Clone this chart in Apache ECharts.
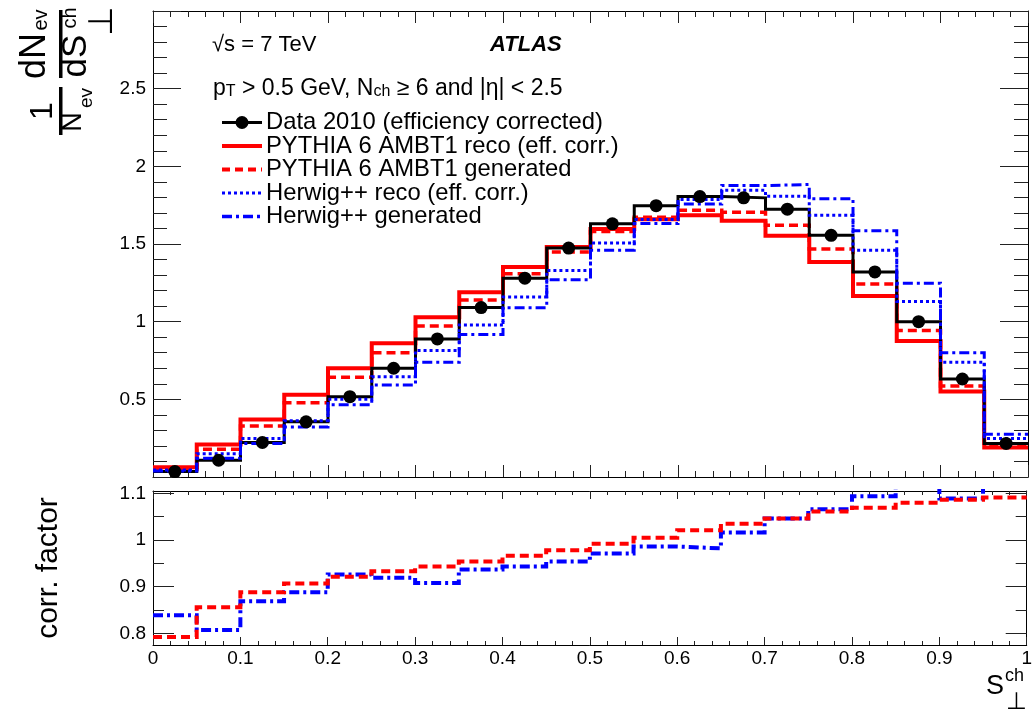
<!DOCTYPE html>
<html><head><meta charset="utf-8">
<script src="https://cdn.jsdelivr.net/npm/echarts@6/dist/echarts.min.js"></script>
<style>html,body{margin:0;padding:0;background:#fff}#c{width:1035px;height:709px}</style>
</head><body><div id="c"></div>
<script>
// ---------- data ----------
const binEdges   = [0,0.05,0.1,0.15,0.2,0.25,0.3,0.35,0.4,0.45,0.5,0.55,0.6,0.65,0.7,0.75,0.8,0.85,0.9,0.95,1.0];
const binCenters = [0.025,0.075,0.125,0.175,0.225,0.275,0.325,0.375,0.425,0.475,0.525,0.575,0.625,0.675,0.725,0.775,0.825,0.875,0.925,0.975];
const dataVals   = [0.035,0.108,0.222,0.355,0.517,0.700,0.889,1.091,1.280,1.474,1.630,1.747,1.805,1.797,1.724,1.556,1.320,1.000,0.631,0.216];
const pythiaReco = [0.063,0.210,0.370,0.530,0.700,0.861,1.029,1.190,1.352,1.480,1.597,1.660,1.685,1.650,1.553,1.384,1.166,0.876,0.550,0.190];
const pythiaGen  = [0.050,0.179,0.328,0.478,0.642,0.800,0.972,1.140,1.308,1.448,1.580,1.672,1.717,1.704,1.620,1.468,1.242,0.943,0.586,0.205];
const herwigReco = [0.045,0.150,0.248,0.362,0.500,0.646,0.814,0.979,1.158,1.330,1.506,1.657,1.786,1.846,1.807,1.685,1.459,1.130,0.739,0.248];
const herwigGen  = [0.038,0.121,0.216,0.322,0.465,0.593,0.738,0.918,1.090,1.270,1.460,1.632,1.758,1.876,1.883,1.792,1.586,1.248,0.800,0.276];
const corrPythia = [0.792,0.856,0.888,0.907,0.921,0.933,0.943,0.954,0.966,0.978,0.992,1.005,1.021,1.035,1.046,1.061,1.069,1.080,1.086,1.091];
const corrHerwig = [0.839,0.807,0.869,0.888,0.926,0.919,0.908,0.937,0.943,0.954,0.971,0.986,0.982,1.016,1.046,1.066,1.094,1.120,1.089,1.120];
const corrMajorTicks = [0.8,0.9,1.0,1.1];
const corrMinorTicks = [0.85,0.95,1.05];
const legendLabels = ['Data 2010 (efficiency corrected)','PYTHIA 6 AMBT1 reco (eff. corr.)','PYTHIA 6 AMBT1 generated','Herwig++ reco (eff. corr.)','Herwig++ generated'];

// ---------- helpers ----------
const FONT = "'Liberation Sans', Arial, Helvetica, sans-serif";
const TICK = '#222';
function stepData(vals){ return binEdges.map((e,i)=>[e, vals[Math.min(i, vals.length-1)]]); }
function hist(vals, color, width, dash, xi, yi, z){
  return {type:'line', xAxisIndex:xi, yAxisIndex:yi, data:stepData(vals), step:'end',
    showSymbol:false, symbol:'none', silent:true, animation:false, z:z, clip:true,
    lineStyle:{color:color, width:width, type:dash, cap:'butt', join:'miter', opacity:1}};
}
function xAx(grid, pos, major, minor, labels){
  return {type:'value', gridIndex:grid, position:pos, min:0, max:1, interval:0.1,
    axisLine:{show:true, onZero:false, lineStyle:{color:'#000', width:1}},
    axisTick:{show:true, inside:true, length:major, lineStyle:{color:TICK, width:1}},
    minorTick:{show:true, splitNumber:5, length:minor, lineStyle:{color:TICK, width:1}},
    splitLine:{show:false}, minorSplitLine:{show:false},
    axisLabel:{show:labels, color:'#000', fontFamily:FONT, fontSize:19, margin:4}};
}
function yTop(pos, labels){
  return {type:'value', gridIndex:0, position:pos, min:0, max:3, interval:0.5,
    axisLine:{show:true, onZero:false, lineStyle:{color:'#000', width:1}},
    axisTick:{show:true, inside:true, length:28, lineStyle:{color:TICK, width:1}},
    minorTick:{show:true, splitNumber:5, length:14, lineStyle:{color:TICK, width:1}},
    splitLine:{show:false}, minorSplitLine:{show:false},
    axisLabel:{show:labels, color:'#000', fontFamily:FONT, fontSize:19, margin:7,
      formatter:v => (v===0 || v===3) ? '' : String(v)}};
}
function yBot(pos, ticks, len, labels, line){
  return {type:'value', gridIndex:1, position:pos, min:0.775, max:1.105,
    axisLine:{show:line, onZero:false, lineStyle:{color:'#000', width:1}},
    axisTick:{show:true, inside:true, length:len, customValues:ticks, lineStyle:{color:TICK, width:1}},
    splitLine:{show:false},
    axisLabel:{show:labels, customValues:ticks, color:'#000', fontFamily:FONT, fontSize:19, margin:7,
      formatter:v => String(+(+v).toFixed(2))}};
}
function rtext(txt, x, y, size){
  return {type:'text', x:x, y:y, rotation:Math.PI/2, silent:true,
    style:{text:txt, font:size+'px '+FONT, fill:'#000', textAlign:'center', textVerticalAlign:'middle'}};
}
function text(txt, x, y, size, extra){
  return {type:'text', x:x, y:y, silent:true,
    style:Object.assign({text:txt, font:size+'px '+FONT, fill:'#000', textAlign:'left', textVerticalAlign:'middle'}, extra||{})};
}
function lline(y, color, width, dash){
  return {type:'line', silent:true, shape:{x1:222, y1:y, x2:262, y2:y},
    style:{stroke:color, lineWidth:width, lineDash:dash, lineCap:'butt'}};
}

// ---------- chart ----------
const chart = echarts.init(document.getElementById('c'), null, {renderer:'canvas'});
const legY = [122.5, 146, 169.5, 193, 216.5];
const graphics = [
  // y title of top panel (rotated fraction)
  rtext('1', 43, 111, 32),
  {type:'rect', silent:true, shape:{x:59, y:87, width:3.5, height:48}, style:{fill:'#000'}},
  rtext('N', 74, 122, 27),
  rtext('ev', 87, 98, 19),
  rtext('dN', 35, 56, 36),
  rtext('ev', 41, 20, 20),
  {type:'rect', silent:true, shape:{x:59, y:10, width:3.5, height:68}, style:{fill:'#000'}},
  rtext('dS', 76, 56, 35),
  rtext('ch', 70, 18, 20),
  rtext('\u22A5', 103, 21, 34),
  // y title bottom panel
  rtext('corr. factor', 49, 568, 30),
  // x title
  text('S', 986, 687, 27),
  text('ch', 1005, 676, 18),
  text('\u22A5', 1006, 702, 24),
  // header texts
  text('\u221As = 7 TeV', 212, 45, 22),
  text('ATLAS', 490, 45, 22, {font:'italic bold 22px '+FONT}),
  {type:'text', x:213, y:70, silent:true, style:{
    text:'{n|p}{s|T}{n| > 0.5 GeV, N}{s|ch}{n| \u2265 6 and |\u03B7| < 2.5}',
    fill:'#000', textAlign:'left', textVerticalAlign:'top',
    rich:{n:{fontFamily:FONT, fontSize:23, lineHeight:30, verticalAlign:'bottom', fill:'#000'},
          s:{fontFamily:FONT, fontSize:16, lineHeight:10, verticalAlign:'bottom', fill:'#000'}}}},
  // legend
  lline(legY[0], '#000', 3, null),
  {type:'circle', silent:true, shape:{cx:242, cy:legY[0], r:6.5}, style:{fill:'#000'}},
  lline(legY[1], '#ff0000', 4, null),
  lline(legY[2], '#ff0000', 4, [8,5]),
  lline(legY[3], '#0000ff', 3, [3,3]),
  lline(legY[4], '#0000ff', 3.5, [10,4,3,4]),
];
legendLabels.forEach((t,i)=>graphics.push(text(t, 266, legY[i], 23.8)));

chart.setOption({
  animation:false,
  backgroundColor:'#fff',
  grid:[
    {left:153, right:7, top:11, height:466},
    {left:153, right:7, top:491, height:154}
  ],
  xAxis:[
    xAx(0,'bottom',12,6,false),
    xAx(0,'top',12,6,false),
    xAx(1,'bottom',8,4,true),
    xAx(1,'top',8,4,false)
  ],
  yAxis:[
    yTop('left', true),
    yTop('right', false),
    yBot('left', corrMajorTicks, 21, true, true),
    yBot('left', corrMinorTicks, 11, false, false),
    yBot('right', corrMajorTicks, 21, false, true),
    yBot('right', corrMinorTicks, 11, false, false)
  ],
  series:[
    hist(pythiaReco, '#ff0000', 4, 'solid', 0, 0, 2),
    hist(pythiaGen,  '#ff0000', 3.5, [9,5], 0, 0, 3),
    hist(dataVals,   '#000000', 3, 'solid', 0, 0, 4),
    hist(herwigReco, '#0000ff', 3, [3,3], 0, 0, 5),
    hist(herwigGen,  '#0000ff', 3, [10,4,3,4], 0, 0, 6),
    {type:'scatter', xAxisIndex:0, yAxisIndex:0, data:binCenters.map((c,i)=>[c, dataVals[i]]),
      symbol:'circle', symbolSize:13, itemStyle:{color:'#000', opacity:1}, silent:true, z:8},
    hist(corrHerwig, '#0000ff', 4, [10,4,3,4], 2, 2, 3),
    hist(corrPythia, '#ff0000', 4, [9,5], 2, 2, 4)
  ],
  graphic:graphics
});
</script></body></html>
